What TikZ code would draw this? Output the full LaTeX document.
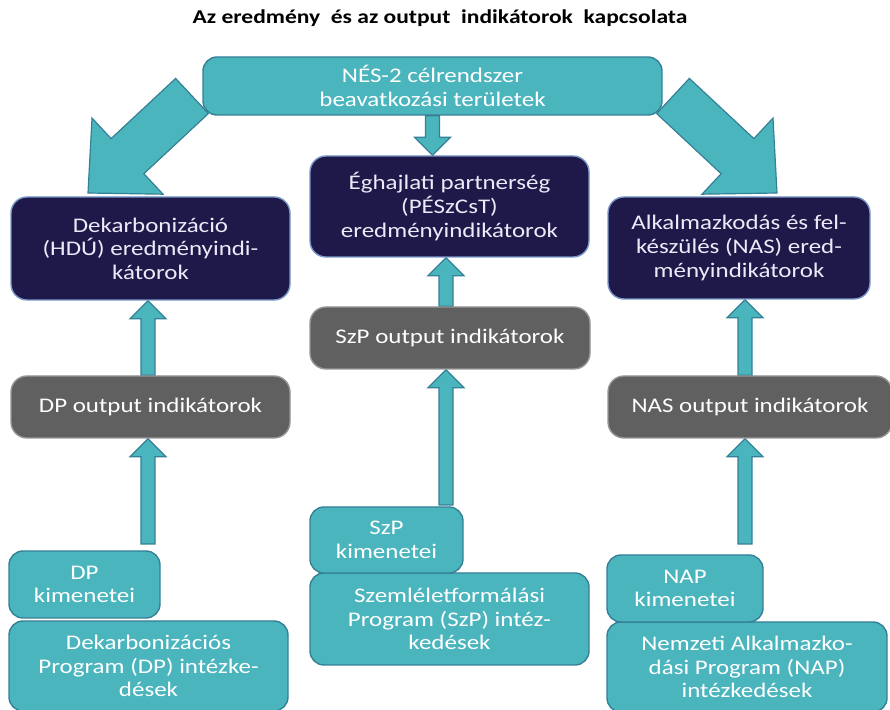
\documentclass[tikz,border=0pt]{standalone}
\usepackage{fontspec}
\setmainfont{Carlito}[FakeStretch=1.2]
\usepackage{tikz}
\usetikzlibrary{calc,backgrounds}
\definecolor{tealfill}{RGB}{75,181,190}
\definecolor{tealline}{RGB}{52,128,150}
\definecolor{navyfill}{RGB}{31,25,74}
\definecolor{navyline}{RGB}{120,150,200}
\definecolor{navytext}{RGB}{236,234,248}
\definecolor{greyfill}{RGB}{96,96,96}
\definecolor{greyline}{RGB}{150,150,150}

\newcommand{\blockarrow}[5]{%
  \coordinate (ba-from) at (#1);
  \coordinate (ba-to) at (#2);
  \coordinate (ba-base) at ($(ba-to)!#5!(ba-from)$);
  \filldraw[arrowbody] ($(ba-from)!#3!90:(ba-to)$) -- ($(ba-base)!#3!90:(ba-to)$)
    -- ($(ba-base)!#4!90:(ba-to)$) -- (ba-to) -- ($(ba-base)!#4!-90:(ba-to)$)
    -- ($(ba-base)!#3!-90:(ba-to)$) -- ($(ba-from)!#3!-90:(ba-to)$) -- cycle;}

\begin{document}
\begin{tikzpicture}[x=0.5pt,y=0.5pt]
\tikzstyle{every node}+=[inner sep=0pt, align=center, font=\fontsize{10.4}{11.8}\selectfont]
\tikzstyle{tealbox}=[draw=tealline, fill=tealfill, text=white, line width=0.7pt, rounded corners=7pt]
\tikzstyle{navybox}=[draw=navyline, fill=navyfill, text=navytext, line width=0.7pt, rounded corners=8pt]
\tikzstyle{greybox}=[draw=greyline, fill=greyfill, text=white, line width=0.7pt, rounded corners=8pt]
\tikzstyle{arrowbody}=[fill=tealfill, draw=tealline, line width=0.6pt]
\useasboundingbox (0,0) rectangle (890,-710);
\node (title) at (440,-18) {\fontsize{9.8}{11}\selectfont\bfseries Az eredmény\ \ és az output\ \ indikátorok\ \ kapcsolata};
\node[tealbox, minimum width=229.5pt, minimum height=29pt] (top) at (432.5,-86) {NÉS-2 célrendszer\\beavatkozási területek};
\node[navybox, minimum width=139.5pt, minimum height=51.5pt] (dec) at (150.5,-248.5) {Dekarbonizáció\\(HDÚ) eredményindi-\\kátorok};
\node[navybox, minimum width=139.5pt, minimum height=50.5pt] (eghaj) at (449.5,-206.5) {Éghajlati partnerség\\(PÉSzCsT)\\eredményindikátorok};
\node[navybox, minimum width=131pt, minimum height=51pt] (alk) at (739,-248) {Alkalmazkodás és fel-\\készülés (NAS) ered-\\ményindikátorok};
\node[greybox, minimum width=139.5pt, minimum height=31pt] (dpout) at (150.5,-407) {DP output indikátorok};
\node[greybox, minimum width=140pt, minimum height=31pt] (szpout) at (450,-338) {SzP output indikátorok};
\node[greybox, minimum width=142pt, minimum height=31pt] (nasout) at (750,-407) {NAS output indikátorok};
\node[tealbox, minimum width=139.5pt, minimum height=45pt] (dpint) at (148.5,-666) {Dekarbonizációs\\Program (DP) intézke-\\dések};
\node[tealbox, minimum width=75.5pt, minimum height=33.5pt] (dpkim) at (84.5,-584.5) {DP\\kimenetei};
\node[tealbox, minimum width=139.5pt, minimum height=46pt] (szpint) at (449.5,-619) {Szemléletformálási\\Program (SzP) intéz-\\kedések};
\node[tealbox, minimum width=76.5pt, minimum height=33pt] (szpkim) at (386.5,-540) {SzP\\kimenetei};
\node[tealbox, minimum width=140pt, minimum height=45pt] (napint) at (747,-667) {Nemzeti Alkalmazko-\\dási Program (NAP)\\intézkedések};
\node[tealbox, minimum width=78pt, minimum height=33.5pt] (napkim) at (685,-588.5) {NAP\\kimenetei};
\coordinate (dpfoot) at (148,-544);
\coordinate (szpfoot) at (446,-505);
\coordinate (napfoot) at (745,-544);
\coordinate (lroot) at (192,-96);
\coordinate (ltip) at (88,-193);
\coordinate (rroot) at (673,-96);
\coordinate (rtip) at (777,-193);
\begin{pgfonlayer}{background}
\blockarrow{lroot}{ltip}{12pt}{26pt}{27pt}
\blockarrow{rroot}{rtip}{12pt}{26pt}{27pt}
\blockarrow{top.south}{top.south |- eghaj.north}{3.5pt}{9pt}{9pt}
\blockarrow{dpfoot |- dpout.north}{dpfoot |- dec.south}{3.5pt}{9pt}{9pt}
\blockarrow{dpfoot}{dpfoot |- dpout.south}{3.5pt}{9pt}{9pt}
\blockarrow{szpfoot |- szpout.north}{szpfoot |- eghaj.south}{3.5pt}{9pt}{9pt}
\blockarrow{szpfoot}{szpfoot |- szpout.south}{3.5pt}{9pt}{9pt}
\blockarrow{napfoot |- nasout.north}{napfoot |- alk.south}{3.5pt}{9pt}{9pt}
\blockarrow{napfoot}{napfoot |- nasout.south}{3.5pt}{9pt}{9pt}
\end{pgfonlayer}
\end{tikzpicture}
\end{document}
